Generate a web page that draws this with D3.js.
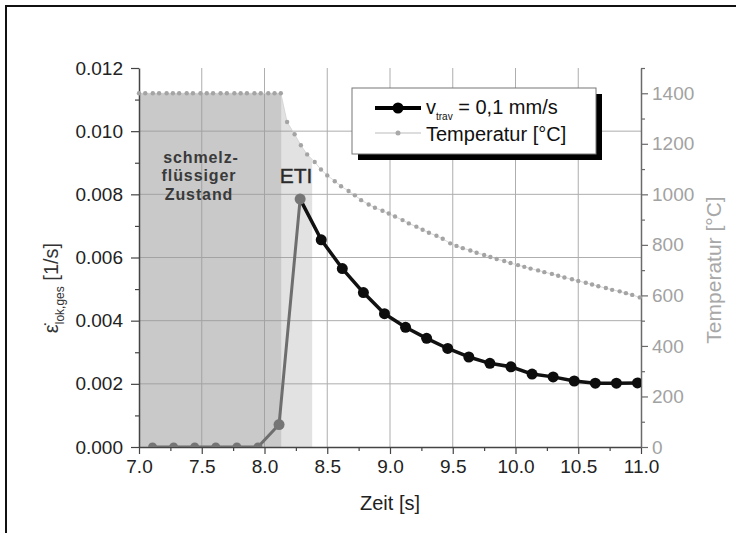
<!DOCTYPE html>
<html><head><meta charset="utf-8">
<script src="https://cdn.jsdelivr.net/npm/d3@7"></script>
<style>
body{margin:0;background:#fff}
svg{display:block;font-family:"Liberation Sans",Arial,sans-serif}
</style>
</head><body>
<svg id="c" width="736" height="533"></svg>
<script>
// ---------- data ----------
const xTicks = [7.0, 7.5, 8.0, 8.5, 9.0, 9.5, 10.0, 10.5, 11.0];
const xMinor = [7.25, 7.75, 8.25, 8.75, 9.25, 9.75, 10.25, 10.75];
const yTicks = [0.000, 0.002, 0.004, 0.006, 0.008, 0.010, 0.012];
const yMinor = [0.001, 0.003, 0.005, 0.007, 0.009, 0.011];
const tTicks = [0, 200, 400, 600, 800, 1000, 1200, 1400];
const tMinor = [100, 300, 500, 700, 900, 1100, 1300, 1500];

// strain rate series (time [s], rate [1/s])
const rateTime = [7.108, 7.276, 7.444, 7.612, 7.780, 7.948, 8.116, 8.284, 8.452, 8.620, 8.788, 8.956,
                  9.124, 9.292, 9.460, 9.628, 9.796, 9.964, 10.132, 10.300, 10.468, 10.636, 10.804, 10.972];
const rateVal  = [0, 0, 0, 0, 0, 0, 0.00071, 0.00785, 0.00656, 0.00565, 0.00489, 0.00422,
                  0.00379, 0.00344, 0.00312, 0.00285, 0.00265, 0.00254, 0.00231, 0.00222, 0.00209, 0.00202, 0.00202, 0.00203];

// temperature series (time [s], °C)
const tempTime = [7.00, 7.05, 7.11, 7.16, 7.22, 7.27, 7.32, 7.38, 7.43, 7.49, 7.54, 7.59, 7.65, 7.70, 7.76, 7.81,
                  7.86, 7.92, 7.97, 8.03, 8.08, 8.13,
                  8.18, 8.24, 8.29, 8.34, 8.40, 8.45, 8.50, 8.56, 8.61, 8.67, 8.72, 8.77, 8.83, 8.88, 8.94, 8.99,
                  9.04, 9.10, 9.15, 9.21, 9.26, 9.31, 9.37, 9.42, 9.48, 9.53, 9.58, 9.64, 9.69, 9.75, 9.80, 9.85,
                  9.91, 9.96, 10.02, 10.07, 10.12, 10.18, 10.23, 10.29, 10.34, 10.39, 10.45, 10.50, 10.56, 10.61,
                  10.66, 10.72, 10.77, 10.83, 10.88, 10.93, 10.99];
const tempVal  = [1400, 1400, 1400, 1400, 1400, 1400, 1400, 1400, 1400, 1400, 1400, 1400, 1400, 1400, 1400, 1400,
                  1400, 1400, 1400, 1400, 1400, 1400,
                  1286, 1238, 1194, 1158, 1128, 1098, 1075, 1052, 1032, 1013, 996, 977, 960, 947, 935, 924,
                  912, 898, 885, 872, 860, 848, 836, 824, 806, 796, 787, 778, 769, 760, 752, 744,
                  736, 728, 720, 713, 706, 699, 692, 685, 678, 671, 664, 657, 650, 643,
                  636, 629, 622, 616, 609, 602, 592];

// shaded zones (time [s])
const zoneMolten = [7.0, 8.137];
const zoneETI = [8.137, 8.38];

// ---------- chart ----------
const svg = d3.select("#c");
const L = 139, R = 641, T = 68, B = 447;
const x = d3.scaleLinear([7, 11], [L, R]);
const y = d3.scaleLinear([0, 0.012], [B, T]);
const yT = d3.scaleLinear([0, 1500], [B, T]);

// outer frame
svg.append("rect").attr("x", 6).attr("y", 6).attr("width", 760).attr("height", 560)
  .attr("fill", "none").attr("stroke", "#111").attr("stroke-width", 2);

const defs = svg.append("defs");
defs.append("clipPath").attr("id", "plot").append("rect")
  .attr("x", L).attr("y", T - 10).attr("width", R - L).attr("height", B - T + 10);
defs.append("clipPath").attr("id", "z1").append("rect")
  .attr("x", x(zoneMolten[0])).attr("y", 0).attr("width", x(zoneMolten[1]) - x(zoneMolten[0])).attr("height", 533);
defs.append("clipPath").attr("id", "z2").append("rect")
  .attr("x", x(zoneETI[0])).attr("y", 0).attr("width", x(zoneETI[1]) - x(zoneETI[0])).attr("height", 533);

const tempData = tempTime.map((t, i) => ({t, v: tempVal[i]}));
const rateData = rateTime.map((t, i) => ({t, v: rateVal[i]}));

const area = d3.area().x(d => x(d.t)).y0(B).y1(d => yT(d.v));
svg.append("path").datum(tempData).attr("d", area).attr("fill", "#c9c9c9").attr("clip-path", "url(#z1)");
svg.append("path").datum(tempData).attr("d", area).attr("fill", "#e2e2e2").attr("clip-path", "url(#z2)");

// grid
const grid = svg.append("g").attr("stroke", "#9a9a9a").attr("stroke-width", 1).attr("opacity", 0.8);
xTicks.filter(v => v > 7 && v < 11).forEach(v => {
  grid.append("line").attr("x1", x(v)).attr("x2", x(v)).attr("y1", T).attr("y2", B);
});
yTicks.filter(v => v > 0 && v < 0.012).forEach(v => {
  grid.append("line").attr("x1", L).attr("x2", R).attr("y1", y(v)).attr("y2", y(v));
});

// axes
function styleAxis(g, col, tcol) {
  g.selectAll(".domain").attr("stroke", col).attr("stroke-width", 1.5);
  g.selectAll(".tick line").attr("stroke", col).attr("stroke-width", 1.2);
  g.selectAll("text").attr("fill", tcol).attr("font-size", 19).attr("font-family", "Liberation Sans, Arial, sans-serif");
}
const gx = svg.append("g").attr("transform", `translate(0,${B})`)
  .call(d3.axisBottom(x).tickValues(xTicks).tickFormat(d3.format(".1f")).tickSizeInner(7).tickSizeOuter(0).tickPadding(6));
styleAxis(gx, "#444", "#222");
const gxm = svg.append("g").attr("transform", `translate(0,${B})`)
  .call(d3.axisBottom(x).tickValues(xMinor).tickFormat("").tickSizeInner(4).tickSizeOuter(0));
gxm.select(".domain").remove(); styleAxis(gxm, "#444", "#222");

const gy = svg.append("g").attr("transform", `translate(${L},0)`)
  .call(d3.axisLeft(y).tickValues(yTicks).tickFormat(d3.format(".3f")).tickSizeInner(8).tickSizeOuter(0).tickPadding(8));
styleAxis(gy, "#444", "#222");
const gym = svg.append("g").attr("transform", `translate(${L},0)`)
  .call(d3.axisLeft(y).tickValues(yMinor).tickFormat("").tickSizeInner(4).tickSizeOuter(0));
gym.select(".domain").remove(); styleAxis(gym, "#444", "#222");

const gr = svg.append("g").attr("transform", `translate(${R},0)`)
  .call(d3.axisRight(yT).tickValues(tTicks).tickFormat(d3.format("d")).tickSizeInner(7).tickSizeOuter(0).tickPadding(4));
styleAxis(gr, "#6a6a6a", "#a2a2a2");
const grm = svg.append("g").attr("transform", `translate(${R},0)`)
  .call(d3.axisRight(yT).tickValues(tMinor).tickFormat("").tickSizeInner(4).tickSizeOuter(0));
grm.select(".domain").remove(); styleAxis(grm, "#6a6a6a", "#a2a2a2");

// temperature series
const line = d3.line().x(d => x(d.t)).y(d => yT(d.v));
svg.append("path").datum(tempData).attr("d", line).attr("fill", "none")
  .attr("stroke", "#d0d0d0").attr("stroke-width", 0.8);
svg.append("g").selectAll("circle").data(tempData).join("circle")
  .attr("cx", d => x(d.t)).attr("cy", d => yT(d.v)).attr("r", 2.2).attr("fill", "#a4a4a4");

// strain rate series
const rl = d3.line().x(d => x(d.t)).y(d => y(d.v));
const plotG = svg.append("g").attr("clip-path", "url(#plot)");
plotG.append("path").datum(rateData.filter(d => d.t >= 8.28)).attr("d", rl).attr("fill", "none")
  .attr("stroke", "#111").attr("stroke-width", 3.5).attr("stroke-linejoin", "round");
plotG.append("path").datum(rateData.filter(d => d.t <= 8.29)).attr("d", rl).attr("fill", "none")
  .attr("stroke", "#6e6e6e").attr("stroke-width", 3).attr("stroke-linejoin", "round");
plotG.selectAll("circle").data(rateData).join("circle")
  .attr("cx", d => x(d.t)).attr("cy", d => y(d.v))
  .attr("r", d => d.v === 0 ? 4.5 : 5.5)
  .attr("fill", d => d.t < 8.3 ? "#757575" : "#0d0d0d");

// annotations
const ann = svg.append("g").attr("font-weight", "bold").attr("font-size", 16).attr("fill", "#3a3a3a")
  .attr("text-anchor", "middle").attr("letter-spacing", 0.9);
ann.append("text").attr("x", 201).attr("y", 163).text("schmelz-");
ann.append("text").attr("x", 199).attr("y", 181).text("flüssiger");
ann.append("text").attr("x", 199).attr("y", 200).text("Zustand");
svg.append("text").attr("x", 296).attr("y", 183).attr("text-anchor", "middle")
  .attr("font-size", 21).attr("fill", "#2a2a2a").attr("stroke", "#2a2a2a").attr("stroke-width", 0.4).text("ETI");

// axis titles
svg.append("text").attr("x", 390).attr("y", 510).attr("text-anchor", "middle")
  .attr("font-size", 20).attr("fill", "#222").text("Zeit [s]");
const yl = svg.append("text").attr("transform", "translate(58,288) rotate(-90)")
  .attr("text-anchor", "middle").attr("font-size", 20).attr("fill", "#333");
yl.append("tspan").text("\u03B5\u0307");
yl.append("tspan").attr("font-size", 12).attr("dy", 6).text("lok,ges");
yl.append("tspan").attr("dy", -6).text(" [1/s]");
svg.append("text").attr("transform", "translate(721,270) rotate(-90)")
  .attr("text-anchor", "middle").attr("font-size", 21).attr("fill", "#a8a8a8").text("Temperatur [°C]");

// legend
const lg = svg.append("g");
lg.append("rect").attr("x", 358).attr("y", 94).attr("width", 244).attr("height", 66).attr("fill", "#000");
lg.append("rect").attr("x", 352).attr("y", 88).attr("width", 244).attr("height", 66)
  .attr("fill", "#fff").attr("stroke", "#777").attr("stroke-width", 1);
lg.append("line").attr("x1", 375).attr("x2", 421).attr("y1", 108).attr("y2", 108)
  .attr("stroke", "#000").attr("stroke-width", 4);
lg.append("circle").attr("cx", 398).attr("cy", 108).attr("r", 5.5).attr("fill", "#000");
const t1 = lg.append("text").attr("x", 426).attr("y", 114).attr("font-size", 20).attr("fill", "#111");
t1.append("tspan").text("v");
t1.append("tspan").attr("font-size", 10).attr("dy", 6).text("trav");
t1.append("tspan").attr("dy", -6).text(" = 0,1 mm/s");
lg.append("line").attr("x1", 375).attr("x2", 421).attr("y1", 133).attr("y2", 133)
  .attr("stroke", "#bbb").attr("stroke-width", 1.2);
lg.append("circle").attr("cx", 398).attr("cy", 133).attr("r", 2.5).attr("fill", "#aaa");
lg.append("text").attr("x", 426).attr("y", 141).attr("font-size", 20).attr("fill", "#111").text("Temperatur [°C]");
</script>
</body></html>
